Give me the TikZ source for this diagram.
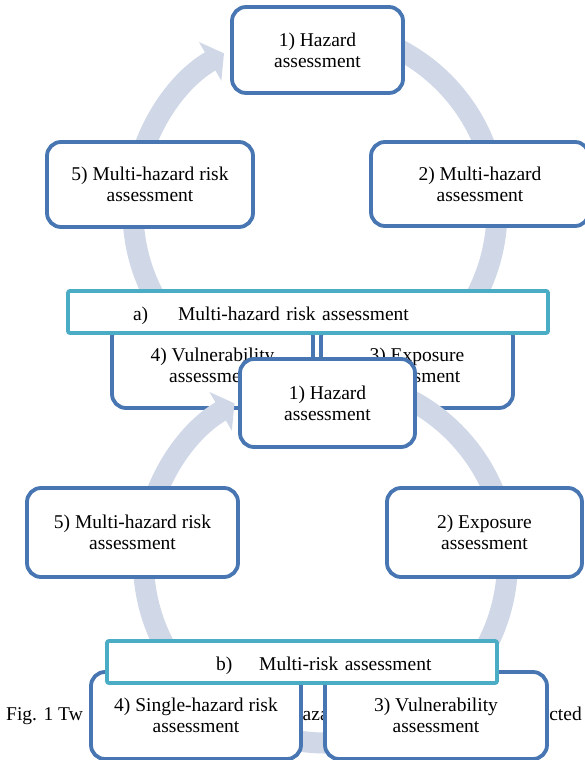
\documentclass[tikz,border=0pt]{standalone}
\usepackage{fontspec}
\setmainfont{Liberation Serif}
\usetikzlibrary{arrows.meta}
\definecolor{stageline}{HTML}{4776B2}
\definecolor{ringfill}{HTML}{D0D8E8}
\definecolor{tagline}{HTML}{4BACC6}
\newcommand{\boxfont}{\fontsize{19.5pt}{21pt}\selectfont}

\begin{document}
\begin{tikzpicture}[x=1pt, y=1pt,
    stage/.style={
        draw=stageline,
        line width=3.8pt,
        fill=white,
        rounded corners=14pt,
        align=center,
        font=\boxfont,
        inner sep=0pt
    },
    tagbar/.style={draw=tagline, line width=3.8pt, fill=white, rounded corners=2pt, minimum height=42pt, align=left, font=\boxfont, inner xsep=8pt, inner ysep=0pt, text height=17pt, text depth=0pt},
    ring/.style={draw=ringfill, line width=21pt, -{Triangle[width=44pt,length=16pt]}},
    capt/.style={font=\boxfont, inner sep=0pt}
]
\useasboundingbox (0,0) rectangle (585,760);

% a) upper cycle: ring first, boxes on top
\coordinate (ca) at (315,549);
\draw[ring] ([shift={(80:182pt)}]ca) arc[start angle=80, end angle=-240, radius=182pt];

\node[stage, minimum width=171pt, minimum height=86pt] (a1) at (317.5,710) {1) Hazard\\assessment};
\node[stage, minimum width=218pt, minimum height=84pt] (a2) at (480,576) {2) Multi-hazard\\assessment};
\node[stage, minimum width=206pt, minimum height=85pt] (a5) at (150,575.5) {5) Multi-hazard risk\\assessment};
\node[stage, minimum width=201pt, minimum height=85pt] (a4) at (212.5,394.5) {4) Vulnerability\\assessment};
\node[stage, minimum width=192pt, minimum height=85pt] (a3) at (417,394.5) {3) Exposure\\assessment};
\node[tagbar, minimum width=480pt, text width=464pt] (abar) at (308,448)
    {\hspace*{57pt}a)\hspace{30pt}Multi-hazard risk assessment};

% caption line, mostly hidden behind the lower boxes
\node[capt, anchor=base west] (cap1) at (6,39) {Fig. 1 Tw};
\node[capt, anchor=base west] (cap2) at (302.5,39) {aza};
\node[capt, anchor=base east] (cap3) at (582,39) {cted};

% b) lower cycle
\coordinate (cb) at (325.5,199);
\draw[ring] ([shift={(80:182pt)}]cb) arc[start angle=80, end angle=-240, radius=182pt];

\node[stage, minimum width=175pt, minimum height=88pt] (b1) at (327.5,357) {1) Hazard\\assessment};
\node[stage, minimum width=211pt, minimum height=89pt] (b5) at (132.5,227.5) {5) Multi-hazard risk\\assessment};
\node[stage, minimum width=195pt, minimum height=89pt] (b2) at (484.5,227.5) {2) Exposure\\assessment};
\node[stage, minimum width=210pt, minimum height=87pt] (b4) at (196,44.5) {4) Single-hazard risk\\assessment};
\node[stage, minimum width=222pt, minimum height=87pt] (b3) at (436,44.5) {3) Vulnerability\\assessment};
\node[tagbar, minimum width=390pt, text width=374pt] (bbar) at (302,98)
    {\hspace*{101pt}b)\hspace{27pt}Multi-risk assessment};

\end{tikzpicture}
\end{document}
